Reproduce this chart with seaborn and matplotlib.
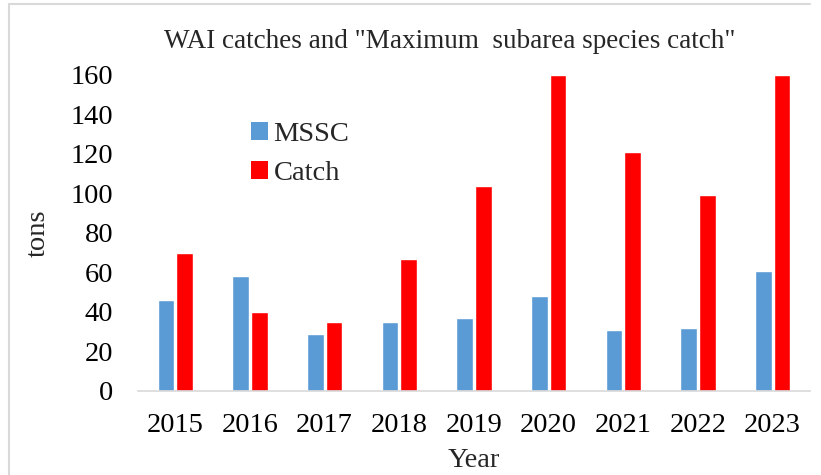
import matplotlib
matplotlib.use("Agg")
import matplotlib.pyplot as plt
import seaborn as sns
import pandas as pd
from matplotlib.lines import Line2D
from matplotlib.patches import Patch

years = ["2015", "2016", "2017", "2018", "2019", "2020", "2021", "2022", "2023"]
mssc = [46, 58, 29, 35, 37, 48, 31, 32, 61]
catch = [70, 40, 35, 67, 104, 160, 121, 99, 160]
series_names = ["MSSC", "Catch"]
colors = ["#5B9BD5", "#FF0000"]

df = pd.DataFrame({
    "Year": years * 2,
    "tons": mssc + catch,
    "Series": [series_names[0]] * len(years) + [series_names[1]] * len(years),
})

sns.set_theme(style="white")
plt.rcParams["font.family"] = ["Liberation Serif", "DejaVu Serif"]

fig = plt.figure(figsize=(8.21, 4.75), dpi=100)
ax = fig.add_axes([138/821, 1 - 391/475, (810-138)/821, (391-75)/475])

sns.barplot(data=df, x="Year", y="tons", hue="Series", palette=colors,
            width=0.5, gap=0.12, ax=ax, legend=False, saturation=1)

ax.set_ylim(0, 160)
ax.set_yticks(range(0, 161, 20))
ax.set_xlim(-0.5, len(years) - 0.5)
for s in ["top", "right", "left"]:
    ax.spines[s].set_visible(False)
ax.spines["bottom"].set_color("#D9D9D9")
ax.spines["bottom"].set_linewidth(1.2)
ax.tick_params(axis="both", length=0, labelsize=20.5, colors="black")
ax.tick_params(axis="y", pad=18)
ax.tick_params(axis="x", pad=16)
ax.set_xlabel("Year", fontsize=20.5, labelpad=7)
ax.set_ylabel("tons", fontsize=20.5, labelpad=14)
fig.text(450/821, 1 - 41/475, 'WAI catches and "Maximum  subarea species catch"',
         fontsize=19.5, ha="center", va="center")

handles = [Patch(facecolor=c, edgecolor="none") for c in colors]
fig.legend(handles, series_names, loc="upper left",
           bbox_to_anchor=(225/821, 1 - 96/475), frameon=False, fontsize=20.5,
           handlelength=0.6, handleheight=0.6, handletextpad=0.2, labelspacing=0.5)

fig.add_artist(Line2D([9/821, 9/821], [0, 1 - 4/475], color="#D9D9D9", lw=1.5))
fig.add_artist(Line2D([9/821, 810/821], [1 - 4/475, 1 - 4/475], color="#D9D9D9", lw=1.5))

fig.savefig("out.png", dpi=100)
